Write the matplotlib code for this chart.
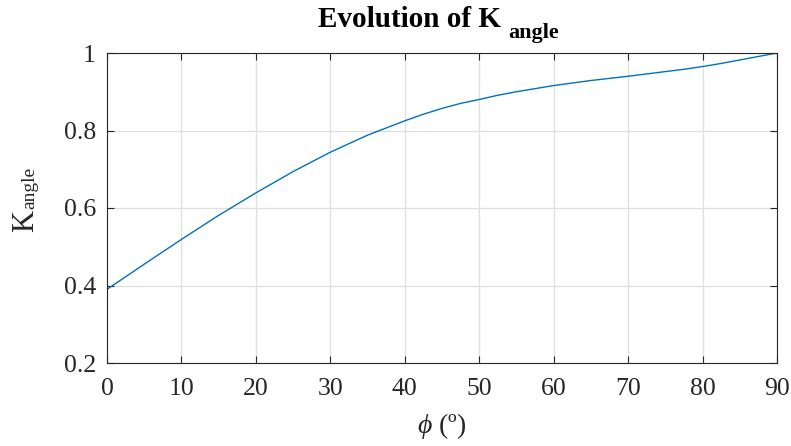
import numpy as np
import matplotlib
matplotlib.use("Agg")
import matplotlib.pyplot as plt

plt.rcParams['font.family'] = ['Liberation Serif', 'DejaVu Serif']
plt.rcParams['mathtext.fontset'] = 'custom'
plt.rcParams['mathtext.rm'] = 'Liberation Serif'
plt.rcParams['mathtext.it'] = 'Liberation Serif:italic'
plt.rcParams['mathtext.bf'] = 'Liberation Serif:bold'

# K_angle as a function of the angle phi (deg)
phi = [0, 5, 10, 15, 20, 25, 30, 35, 40, 42.5, 45, 47.5, 50, 52.5, 55, 60,
       65, 70, 75, 77.5, 80, 82.5, 85, 87.5, 90]
k_angle = [0.390, 0.455, 0.519, 0.581, 0.639, 0.694, 0.744, 0.788, 0.825,
           0.842, 0.857, 0.870, 0.880, 0.891, 0.900, 0.916, 0.929, 0.940,
           0.952, 0.958, 0.965, 0.973, 0.982, 0.991, 1.000]

xticks = [0, 10, 20, 30, 40, 50, 60, 70, 80, 90]
yticks = [0.2, 0.4, 0.6, 0.8, 1.0]
ytick_labels = ['0.2', '0.4', '0.6', '0.8', '1']

W, H = 791, 446
fig = plt.figure(figsize=(W / 100, H / 100), dpi=100)
ax = fig.add_axes([107 / W, 1 - 363 / H, 670 / W, 310 / H])

ax.plot(phi, k_angle, color='#0072BD', lw=1.0)

ax.set_xlim(0, 90)
ax.set_ylim(0.2, 1.0)
ax.set_xticks(xticks)
ax.set_yticks(yticks)
ax.set_yticklabels(ytick_labels)
ax.grid(True, color='#dfdfdf', lw=0.9)
ax.set_axisbelow(True)
ax.tick_params(direction='in', top=True, right=True, labelsize=18.5,
               colors='#262626', length=5, width=0.8)
ax.tick_params(axis='x', pad=11)
ax.tick_params(axis='y', pad=8)
for s in ax.spines.values():
    s.set_color('#262626')
    s.set_linewidth(0.8)

ax.set_xlabel(r'$\phi$ (º)', fontsize=20, color='#262626', labelpad=8)

# title: "Evolution of K" with a lowered bold subscript
fig.canvas.draw()
r = fig.canvas.get_renderer()
t = fig.text(318 / W, 1 - 27 / H, 'Evolution of K', fontsize=21,
             fontweight='bold', ha='left', va='baseline')
bb = t.get_window_extent(r)
fig.text((bb.x1 + 7) / W, 1 - 38 / H, 'angle', fontsize=16,
         fontweight='bold', ha='left', va='baseline')

# y label: K with a subscript, rotated
k = fig.text(33 / W, 1 - 232 / H, 'K', fontsize=22, color='#262626',
             rotation=90, rotation_mode='anchor', ha='left', va='baseline')
kb = k.get_window_extent(r)
fig.text(34 / W, (kb.y1 + 1) / H, 'angle', fontsize=14, color='#262626',
         rotation=90, rotation_mode='anchor', ha='left', va='baseline')

fig.savefig('out.png', dpi=100)
